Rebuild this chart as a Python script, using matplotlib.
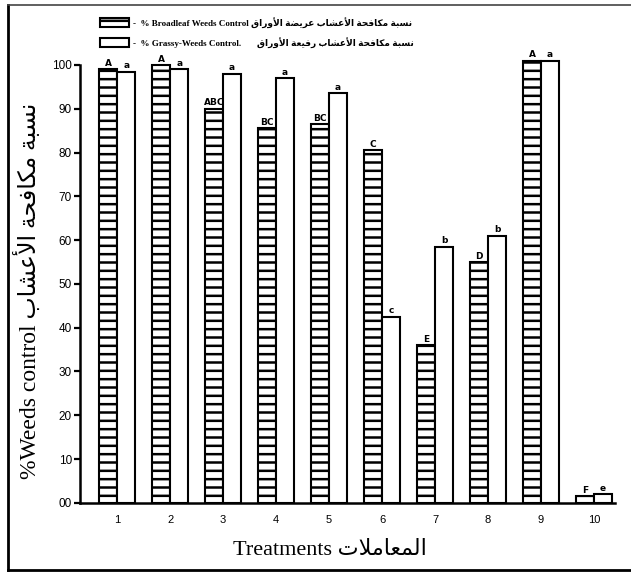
import matplotlib
matplotlib.use('Agg')
import matplotlib.pyplot as plt
import matplotlib.patches as mpatches
from matplotlib.lines import Line2D
import numpy as np

# Arabic text needs shaping by hand (matplotlib has no bidi / joining)
DUAL = {'ب': 0xFE8F, 'ت': 0xFE95, 'ح': 0xFEA1, 'س': 0xFEB1, 'ش': 0xFEB5, 'ض': 0xFEBD,
        'ع': 0xFEC9, 'ف': 0xFED1, 'ق': 0xFED5, 'ك': 0xFED9, 'ل': 0xFEDD, 'م': 0xFEE1,
        'ن': 0xFEE5, 'ي': 0xFEF1}
RIGHT = {'ا': 0xFE8D, 'أ': 0xFE83, 'ة': 0xFE93, 'ر': 0xFEAD, 'و': 0xFEED}
LAM_ALEF = {'ا': 0xFEFB, 'أ': 0xFEF7}


def arabic(text):
    words = []
    for word in text.split(' '):
        glyphs = []
        prev_joins = False
        i = 0
        while i < len(word):
            ch = word[i]
            if ch == 'ل' and i + 1 < len(word) and word[i + 1] in LAM_ALEF:
                glyphs.append(chr(LAM_ALEF[word[i + 1]] + (1 if prev_joins else 0)))
                prev_joins = False
                i += 2
                continue
            has_next = i + 1 < len(word)
            if ch in DUAL:
                base = DUAL[ch]
                if prev_joins and has_next:
                    g = base + 3
                elif prev_joins:
                    g = base + 1
                elif has_next:
                    g = base + 2
                else:
                    g = base
                prev_joins = has_next
            else:
                g = RIGHT[ch] + (1 if prev_joins else 0)
                prev_joins = False
            glyphs.append(chr(g))
            i += 1
        words.append(''.join(glyphs))
    return ' '.join(words)[::-1]


# data
treatments = ['1', '2', '3', '4', '5', '6', '7', '8', '9', '10']
broadleaf = [99, 100, 90, 85.5, 86.5, 80.5, 36, 55, 101, 1.5]
grassy = [98.5, 99, 98, 97, 93.5, 42.5, 58.5, 61, 101, 2]
broadleaf_letters = ['A', 'A', 'ABC', 'BC', 'BC', 'C', 'E', 'D', 'A', 'F']
grassy_letters = ['a', 'a', 'a', 'a', 'a', 'c', 'b', 'b', 'a', 'e']
yticks = [0, 10, 20, 30, 40, 50, 60, 70, 80, 90, 100]
yticklabels = ['00', '10', '20', '30', '40', '50', '60', '70', '80', '90', '100']

plt.rcParams['hatch.linewidth'] = 1.8
serif_ar = ['Liberation Serif', 'DejaVu Sans']

fig = plt.figure(figsize=(6.31, 5.73), dpi=100)
ax = fig.add_axes([0.127, 0.1225, 0.848, 0.787])

x = np.arange(1, len(treatments) + 1)
w = 0.34
b1 = ax.bar(x - w / 2, broadleaf, w, color='white', edgecolor='black',
            linewidth=1.5, hatch='--')
b2 = ax.bar(x + w / 2, grassy, w, color='white', edgecolor='black', linewidth=1.5)
ax.bar_label(b1, labels=broadleaf_letters, padding=1, fontsize=6.5,
             fontweight='bold', family='DejaVu Sans')
ax.bar_label(b2, labels=grassy_letters, padding=1, fontsize=6.5,
             fontweight='bold', family='DejaVu Sans')

ax.set_xlim(0.3, 10.4)
ax.set_ylim(0, 103)
ax.set_xticks(x)
ax.set_xticklabels(treatments, family='Liberation Sans', fontsize=8)
ax.set_yticks(yticks)
ax.set_yticklabels(yticklabels, family='Liberation Sans', fontsize=8.5)
ax.tick_params(axis='x', length=0, pad=9)
ax.tick_params(axis='y', length=4, width=1.6, pad=2)
for s in ['top', 'right']:
    ax.spines[s].set_visible(False)
ax.spines['left'].set_bounds(0, 100)
ax.spines['left'].set_linewidth(1.8)
ax.spines['bottom'].set_linewidth(1.8)

ax.set_xlabel('Treatments ' + arabic('المعاملات'), family=serif_ar, fontsize=16)
ax.xaxis.set_label_coords(0.467, -0.085)
ax.set_ylabel('%Weeds control ' + arabic('نسبة مكافحة الأعشاب'), family=serif_ar,
              fontsize=17)
ax.yaxis.set_label_coords(-0.073, 0.47)

# legend at the top
h1 = mpatches.Patch(facecolor='white', edgecolor='black', hatch='--', linewidth=1.5)
h2 = mpatches.Patch(facecolor='white', edgecolor='black', linewidth=1.5)
lab1 = '-  % Broadleaf Weeds Control ' + arabic('نسبة مكافحة الأعشاب عريضة الأوراق')
lab2 = '-  % Grassy-Weeds Control.       ' + arabic('نسبة مكافحة الأعشاب رفيعة الأوراق')
leg = fig.legend([h1, h2], [lab1, lab2], loc='upper left', bbox_to_anchor=(0.145, 0.985),
                 frameon=False, handlelength=3.2, handleheight=1.1, labelspacing=1.0,
                 handletextpad=0.5, prop={'family': serif_ar, 'size': 6.5, 'weight': 'bold'})

# frame lines around the figure (right side cut off in the scan)
fx0, fy0, fy1 = 8 / 631, 1 - 570 / 573, 1 - 5 / 573
fig.add_artist(Line2D([fx0, fx0], [fy0, fy1], transform=fig.transFigure,
                      color='black', linewidth=2))
fig.add_artist(Line2D([fx0, 1], [fy0, fy0], transform=fig.transFigure,
                      color='black', linewidth=2))
fig.add_artist(Line2D([fx0, 1], [fy1, fy1], transform=fig.transFigure,
                      color='#444444', linewidth=1.2))

fig.savefig('out.png', dpi=100)
